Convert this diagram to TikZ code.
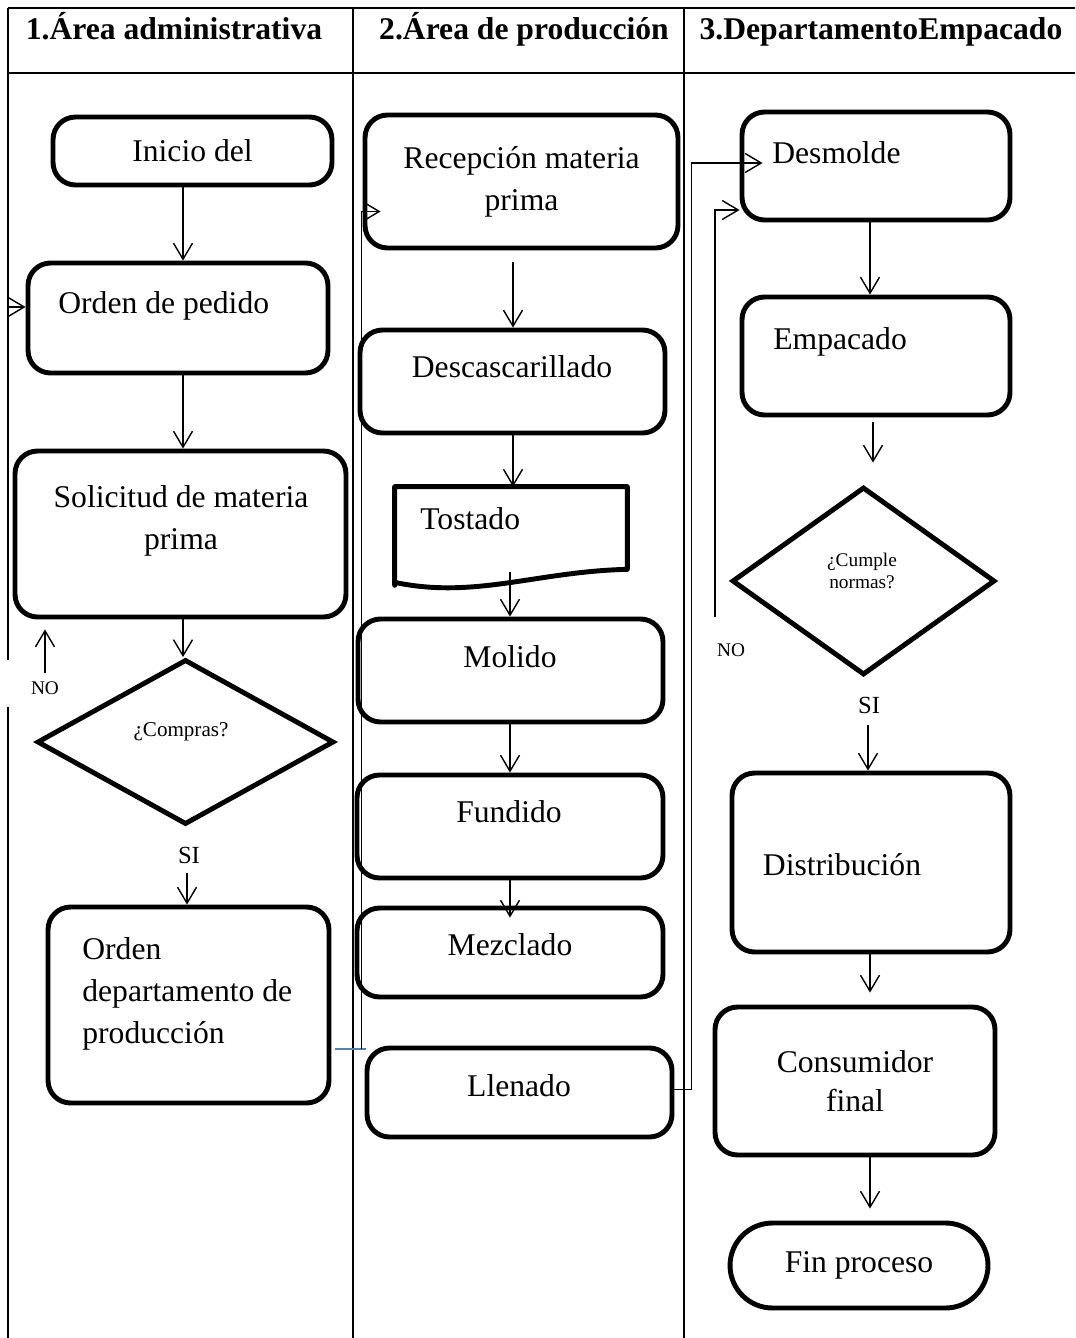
\documentclass[tikz,border=0pt]{standalone}
\usepackage{fontspec}
\setmainfont{Liberation Serif}
\usetikzlibrary{arrows.meta,shapes.geometric,calc}
\definecolor{linkblue}{RGB}{79,129,189}

\begin{document}
\begin{tikzpicture}[x=0.02cm,y=-0.02cm,
  box/.style={draw,line width=2.8pt,rounded corners=0.45cm,inner sep=2pt,align=center,font=\fontsize{18}{24}\selectfont},
  dec/.style={draw,diamond,line width=2.8pt,inner sep=0pt},
  txt/.style={inner sep=0pt,align=center,font=\fontsize{18}{24}\selectfont},
  hd/.style={inner sep=0pt,anchor=base,font=\fontsize{18}{20}\selectfont\bfseries},
  sm/.style={inner sep=1pt,font=\fontsize{11}{13}\selectfont},
  yes/.style={inner sep=1pt,font=\fontsize{14}{16}\selectfont},
  rule/.style={line width=1.1pt},
  arr/.style={line width=0.8pt,-{Straight Barb[length=0.32cm,width=0.38cm]}}]
\useasboundingbox (0,0) rectangle (1075,1338);

% table
\draw[rule,line width=1.5pt] (8,8) -- (1075,8);
\draw[rule,line width=1.5pt] (8,73) -- (1075,73);
\draw[rule] (8,8) -- (8,660);
\draw[rule] (8,707) -- (8,1338);
\draw[rule] (353,8) -- (353,1338);
\draw[rule] (684,8) -- (684,1338);
\node[hd] (h1) at (174,40) {1.Área administrativa};
\node[hd] (h2) at (524,40) {2.Área de producción};
\node[hd] (h3) at (881,40) {3.DepartamentoEmpacado};

% area administrativa
\node[box,minimum width=5.58cm,minimum height=1.36cm] (inicio) at (192.5,151) {Inicio del};
\node[box,minimum width=6cm,minimum height=2.2cm] (pedido) at (178,318) {};
\node[txt,anchor=west] (pedido-t) at (58,306) {Orden de pedido};
\node[box,minimum width=6.62cm,minimum height=3.32cm] (solicitud) at (180.5,534) {};
\node[txt] (solicitud-t) at (181,521) {Solicitud de materia\\prima};
\node[dec,minimum width=5.94cm,minimum height=3.3cm] (compras) at (185.5,742) {};
\node[txt,font=\fontsize{12}{14}\selectfont] (compras-t) at (181,732) {¿Compras?};
\node[yes] (si1) at (189,855) {SI};
\node[box,minimum width=5.62cm,minimum height=3.92cm] (ordprod) at (188.5,1005) {};
\node[txt,anchor=west,align=left] (ordprod-t) at (82,994) {Orden\\departamento de\\producción};
\node[sm] (no1) at (45,688) {NO};

% area de produccion
\node[box,minimum width=6.26cm,minimum height=2.66cm] (recep) at (521.5,181.5) {Recepción materia\\prima};
\node[box,minimum width=6.1cm,minimum height=2.06cm] (desc) at (512.5,381.5) {};
\node[txt] (desc-t) at (512,367) {Descascarillado};
\node[inner sep=0pt,minimum width=4.64cm,minimum height=1.96cm] (tostado) at (511,536) {};
\draw[line width=2.8pt,line join=round] (tostado.south west) -- (tostado.north west) -- (tostado.north east)
  -- ($(tostado.south east)+(0,-16)$) .. controls ($(tostado.south east)+(-90,-14)$) and ($(tostado.south west)+(80,14)$) .. ($(tostado.south west)+(0,-3)$) -- cycle;
\node[txt,anchor=west] (tostado-t) at (420,519) {Tostado};
\node[box,minimum width=6.1cm,minimum height=2.06cm] (molido) at (510.5,670.5) {};
\node[txt] (molido-t) at (510,657) {Molido};
\node[box,minimum width=6.12cm,minimum height=2.06cm] (fundido) at (510,826.5) {};
\node[txt] (fundido-t) at (509,812) {Fundido};
\node[box,minimum width=6.12cm,minimum height=1.78cm] (mezclado) at (510,952.5) {};
\node[txt] (mezclado-t) at (510,945) {Mezclado};
\node[box,minimum width=6.1cm,minimum height=1.78cm] (llenado) at (519.5,1092.5) {};
\node[txt] (llenado-t) at (519,1086) {Llenado};

% departamento empacado
\node[box,minimum width=5.36cm,minimum height=2.16cm] (desmolde) at (876,166) {};
\node[txt,anchor=west] (desmolde-t) at (772,153) {Desmolde};
\node[box,minimum width=5.36cm,minimum height=2.36cm] (empacado) at (876,356) {};
\node[txt,anchor=west] (empacado-t) at (773,342) {Empacado};
\node[dec,minimum width=5.26cm,minimum height=3.76cm] (cumple) at (863.5,581) {};
\node[txt,font=\fontsize{11}{13}\selectfont] (cumple-t) at (862,571) {¿Cumple\\normas?};
\node[sm] (no2) at (731,650) {NO};
\node[yes] (si2) at (869,705) {SI};
\node[box,minimum width=5.56cm,minimum height=3.58cm] (distrib) at (871,862.5) {};
\node[txt] (distrib-t) at (842,865) {Distribución};
\node[box,minimum width=5.6cm,minimum height=2.96cm] (consumidor) at (855,1081) {Consumidor\\[-2pt]final};
\node[box,rounded corners=0.85cm,minimum width=5.16cm,minimum height=1.7cm] (fin) at (859,1265.5) {Fin proceso};

% flow
\coordinate (a1) at (183,0);
\coordinate (a2) at (513,0);
\coordinate (a3) at (510,0);
\coordinate (a4) at (870,0);
\draw[arr] (a1 |- inicio.south) -- (a1 |- pedido.north);
\draw[arr] (a1 |- pedido.south) -- (a1 |- solicitud.north);
\draw[arr] (a1 |- solicitud.south) -- (a1 |- compras.north);
\draw[arr] ($(si1.south)+(-2,8)$) -- ($(si1.south |- ordprod.north)+(-2,0)$);
\draw[arr] ($(a2 |- recep.south)+(0,12)$) -- (a2 |- desc.north);
\draw[arr] (a2 |- desc.south) -- (a2 |- tostado.north);
\draw[arr] ($(a3 |- tostado.south)+(0,-13)$) -- (a3 |- molido.north);
\draw[arr] (a3 |- molido.south) -- (a3 |- fundido.north);
\draw[arr] (a3 |- fundido.south) -- ($(a3 |- mezclado.north)+(0,12)$);
\draw[arr] (a4 |- desmolde.south) -- (a4 |- empacado.north);
\draw[arr] ($(a4 |- empacado.south)+(3,5)$) -- ($(a4 |- cumple.north)+(3,-22)$);
\draw[arr] ($(si2.south)+(-1,10)$) -- ($(si2.south |- distrib.north)+(-1,0)$);
\draw[arr] (a4 |- distrib.south) -- ($(a4 |- consumidor.north)+(0,-12)$);
\draw[arr] (a4 |- consumidor.south) -- ($(a4 |- fin.north)+(0,-12)$);

% loops
\coordinate (back1) at (8,307);
\draw[arr] (back1) -- (back1 -| pedido.west);
\draw[arr] ($(no1.north)+(0,-6)$) -- ($(no1.north |- solicitud.south)+(0,10)$);
\coordinate (lnk) at ($(ordprod.east)+(4,44)$);
\draw[linkblue,line width=1pt] (lnk) -- ++(31,0);
\draw[arr] ($(lnk)+(26,0)$) |- ($(recep.west)+(18,30)$);
\draw[arr] ($(llenado.east)+(0,-3)$) -- ++(17,0) |- ($(desmolde.west)+(23,-3)$);
\coordinate (back2) at (715,617);
\draw[arr] (back2) |- ($(desmolde.west)+(0,44)$);
\end{tikzpicture}
\end{document}
